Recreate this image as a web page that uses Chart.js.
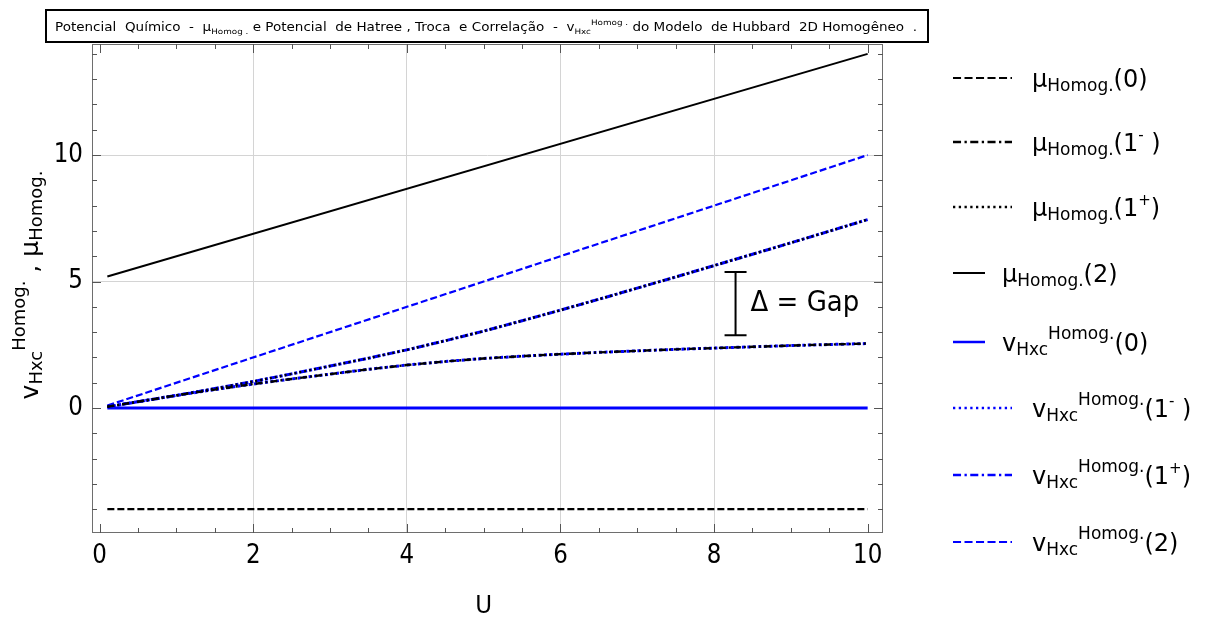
<!DOCTYPE html>
<html>
<head>
<meta charset="utf-8">
<script src="https://cdn.jsdelivr.net/npm/chart.js@4.4.1/dist/chart.umd.min.js"></script>
<style>
  html, body { margin: 0; padding: 0; background: #ffffff; }
  #wrap { width: 1211px; height: 623px; position: relative; }
</style>
</head>
<body>
<div id="wrap"><canvas id="c" width="1211" height="623"></canvas></div>
<script>
// Interaction strength U on the horizontal axis
const uLine = [0.1, 10];
const uCurve = [0.1, 0.5, 1, 1.5, 2, 2.5, 3, 3.5, 4, 4.5, 5, 5.5, 6, 6.5, 7, 7.5, 8, 8.5, 9, 9.5, 10];

// Chemical potentials of the homogeneous 2D Hubbard model
const muZero  = [-4.0, -4.0];
const muTwo   = [5.2, 14.0];
const muMinus = [0.05, 0.25, 0.5, 0.73, 0.95, 1.15, 1.34, 1.53, 1.70, 1.84, 1.96, 2.05, 2.13, 2.20, 2.26, 2.32, 2.37, 2.42, 2.47, 2.51, 2.55];
const muPlus  = [0.05, 0.25, 0.5, 0.77, 1.05, 1.35, 1.66, 1.97, 2.30, 2.66, 3.04, 3.45, 3.87, 4.30, 4.74, 5.18, 5.63, 6.08, 6.53, 6.99, 7.45];

// Hartree-exchange-correlation potentials
const vZero  = [0.0, 0.0];
const vTwo   = [0.1, 10.0];
const vMinus = [0.05, 0.25, 0.5, 0.73, 0.95, 1.15, 1.34, 1.53, 1.70, 1.84, 1.96, 2.05, 2.13, 2.20, 2.26, 2.32, 2.37, 2.42, 2.47, 2.51, 2.55];
const vPlus  = [0.05, 0.25, 0.5, 0.77, 1.05, 1.35, 1.66, 1.97, 2.30, 2.66, 3.04, 3.45, 3.87, 4.30, 4.74, 5.18, 5.63, 6.08, 6.53, 6.99, 7.45];

// Axis tick labels
const xTickValues = [0, 2, 4, 6, 8, 10];
const yTickValues = [0, 5, 10];

// Gap marker between the two branches (data units)
const gapU = 8.28, gapLow = 2.88, gapHigh = 5.38;

const FONT = '"DejaVu Sans", "Liberation Sans", sans-serif';
const BLUE = '#0000ff';
const BLACK = '#000000';

function pts(xs, ys) { return xs.map((x, i) => ({ x: x, y: ys[i] })); }

const DASH = [7, 3];
const DOT = [2, 3];
const DASHDOT = [7, 3, 2, 3];

// plotDash: pattern along the curve; dash: pattern in the legend sample
const series = [
  { label: 'mu0',  data: pts(uLine, muZero),   color: BLACK, dash: DASH,    plotDash: DASH,         width: 2.2 },
  { label: 'mu1m', data: pts(uCurve, muMinus), color: BLACK, dash: DASHDOT, plotDash: DASHDOT,      width: 2.4 },
  { label: 'mu1p', data: pts(uCurve, muPlus),  color: BLACK, dash: DOT,     plotDash: DOT,          width: 2.4 },
  { label: 'mu2',  data: pts(uLine, muTwo),    color: BLACK, dash: [],      plotDash: [],           width: 2 },
  { label: 'v0',   data: pts(uLine, vZero),    color: BLUE,  dash: [],      plotDash: [],           width: 3 },
  { label: 'v1m',  data: pts(uCurve, vMinus),  color: BLUE,  dash: DOT,     plotDash: [3, 2.5],     width: 3 },
  { label: 'v1p',  data: pts(uCurve, vPlus),   color: BLUE,  dash: DASHDOT, plotDash: [8, 2, 3, 2], width: 3 },
  { label: 'v2',   data: pts(uLine, vTwo),     color: BLUE,  dash: DASH,    plotDash: DASH,         width: 2.2 }
];

// Legend text: main size, subscripts/superscripts smaller
const M = 24, S = 17;
function muLabel(arg) { return [{ t: 'μ', s: M }, { t: 'Homog.', s: S, dy: 4 }].concat(arg); }
function vLabel(arg)  { return [{ t: 'v', s: M }, { t: 'Hxc', s: S, dy: 4 }, { t: 'Homog.', s: S, dy: -12 }].concat(arg); }
const arg0  = [{ t: '(0)', s: M }];
const arg2  = [{ t: '(2)', s: M }];
const arg1m = [{ t: '(1', s: M }, { t: '-', s: 15, dy: -11 }, { t: ' )', s: M }];
const arg1p = [{ t: '(1', s: M }, { t: '+', s: 15, dy: -11 }, { t: ')', s: M }];

const legendRows = [
  { y: 78,  x0: 953, x1: 1012, tx: 1032, text: muLabel(arg0),  ds: 0 },
  { y: 142, x0: 953, x1: 1012, tx: 1032, text: muLabel(arg1m), ds: 1 },
  { y: 207, x0: 953, x1: 1012, tx: 1032, text: muLabel(arg1p), ds: 2 },
  { y: 273, x0: 953, x1: 985,  tx: 1002, text: muLabel(arg2),  ds: 3 },
  { y: 342, x0: 953, x1: 985,  tx: 1002, text: vLabel(arg0),   ds: 4 },
  { y: 408, x0: 953, x1: 1012, tx: 1032, text: vLabel(arg1m),  ds: 5 },
  { y: 475, x0: 953, x1: 1012, tx: 1032, text: vLabel(arg1p),  ds: 6 },
  { y: 542, x0: 953, x1: 1012, tx: 1032, text: vLabel(arg2),   ds: 7 }
];

const titleSegs = [
  { t: 'Potencial  Químico  -  μ', s: 11.5 },
  { t: 'Homog .', s: 7.5, dy: 3 },
  { t: ' e Potencial  de Hatree , Troca  e Correlação  -  v', s: 11.5 },
  { t: 'Hxc', s: 7.5, dy: 3 },
  { t: 'Homog .', s: 7.5, dy: -6 },
  { t: ' do Modelo  de Hubbard  2D Homogêneo  .', s: 11.5 }
];

const yTitleSegs = [
  { t: 'v', s: 25 }, { t: 'Hxc', s: 18, dy: 4 }, { t: 'Homog.', s: 18, dy: -13 },
  { t: ' , μ', s: 25 }, { t: 'Homog.', s: 18, dy: 4 }
];

function richWidth(ctx, segs) {
  let w = 0;
  for (const g of segs) { ctx.font = g.s + 'px ' + FONT; w += ctx.measureText(g.t).width; }
  return w;
}
function drawRich(ctx, segs, x, y, align) {
  const w = richWidth(ctx, segs);
  let cx = align === 'center' ? x - w / 2 : (align === 'right' ? x - w : x);
  ctx.textAlign = 'left';
  ctx.textBaseline = 'alphabetic';
  for (const g of segs) {
    ctx.font = g.s + 'px ' + FONT;
    ctx.fillText(g.t, cx, y + (g.dy || 0));
    cx += ctx.measureText(g.t).width;
  }
  return w;
}
function drawStretched(ctx, text, x, y, size, sy, align, baseline) {
  ctx.save();
  ctx.translate(x, y);
  ctx.scale(1, sy);
  ctx.font = size + 'px ' + FONT;
  ctx.textAlign = align;
  ctx.textBaseline = baseline;
  ctx.fillText(text, 0, 0);
  ctx.restore();
}

const decorations = {
  id: 'decorations',
  afterDraw(chart) {
    const ctx = chart.ctx;
    const xs = chart.scales.x, ys = chart.scales.y;
    const a = chart.chartArea;
    ctx.save();

    // Frame
    ctx.strokeStyle = '#6e6e6e';
    ctx.lineWidth = 1;
    ctx.strokeRect(a.left + 0.5, a.top + 0.5, a.right - a.left - 1, a.bottom - a.top - 1);

    // Inward ticks on all four sides
    ctx.strokeStyle = '#555555';
    ctx.beginPath();
    for (let k = 0; k <= 20; k++) {
      const v = k * 0.5;
      const px = Math.round(xs.getPixelForValue(v)) + 0.5;
      const len = (k % 4 === 0) ? 9 : 5;
      ctx.moveTo(px, a.bottom); ctx.lineTo(px, a.bottom - len);
      ctx.moveTo(px, a.top);    ctx.lineTo(px, a.top + len);
    }
    for (let v = -4; v <= 14; v++) {
      const py = Math.round(ys.getPixelForValue(v)) + 0.5;
      const len = (v % 5 === 0) ? 9 : 5;
      ctx.moveTo(a.left, py);  ctx.lineTo(a.left + len, py);
      ctx.moveTo(a.right, py); ctx.lineTo(a.right - len, py);
    }
    ctx.stroke();

    // Tick labels
    ctx.fillStyle = '#000000';
    for (const v of xTickValues) {
      drawStretched(ctx, String(v), xs.getPixelForValue(v), 556, 23, 1.15, 'center', 'middle');
    }
    for (const v of yTickValues) {
      drawStretched(ctx, String(v), 83, ys.getPixelForValue(v), 23, 1.15, 'right', 'middle');
    }

    // Axis titles
    drawStretched(ctx, 'U', xs.getPixelForValue(5), 606, 23, 1.1, 'center', 'middle');
    ctx.save();
    ctx.translate(38, 285);
    ctx.rotate(-Math.PI / 2);
    drawRich(ctx, yTitleSegs, 0, 0, 'center');
    ctx.restore();

    // Gap marker
    const gx = xs.getPixelForValue(gapU);
    const gy1 = ys.getPixelForValue(gapHigh), gy2 = ys.getPixelForValue(gapLow);
    ctx.strokeStyle = '#000000';
    ctx.lineWidth = 2;
    ctx.setLineDash([]);
    ctx.beginPath();
    ctx.moveTo(gx, gy1); ctx.lineTo(gx, gy2);
    ctx.moveTo(gx - 11, gy1); ctx.lineTo(gx + 11, gy1);
    ctx.moveTo(gx - 11, gy2); ctx.lineTo(gx + 11, gy2);
    ctx.stroke();
    drawStretched(ctx, 'Δ = Gap', gx + 15, (gy1 + gy2) / 2, 26, 1.08, 'left', 'middle');

    // Legend
    for (const r of legendRows) {
      const d = series[r.ds];
      ctx.strokeStyle = d.color;
      ctx.lineWidth = Math.min(d.width, 2.5);
      ctx.setLineDash(d.dash.length ? d.dash.map(q => q * 1.15) : []);
      ctx.beginPath();
      ctx.moveTo(r.x0, r.y); ctx.lineTo(r.x1, r.y);
      ctx.stroke();
      ctx.setLineDash([]);
      ctx.fillStyle = '#000000';
      drawRich(ctx, r.text, r.tx, r.y + 9, 'left');
    }

    // Title box
    ctx.strokeStyle = '#000000';
    ctx.lineWidth = 2;
    ctx.strokeRect(46, 10, 882, 32);
    ctx.fillStyle = '#000000';
    const tw = richWidth(ctx, titleSegs);
    ctx.save();
    ctx.translate(55, 31);
    ctx.scale(862 / tw, 1);
    drawRich(ctx, titleSegs, 0, 0, 'left');
    ctx.restore();

    ctx.restore();
  }
};

function gridColor(c) {
  const v = c.tick ? c.tick.value : null;
  if (v === null || v === 0 || v === 10 && c.scale.axis === 'x') return 'rgba(0,0,0,0)';
  return '#d4d4d4';
}

new Chart(document.getElementById('c').getContext('2d'), {
  type: 'line',
  data: {
    datasets: series.map(d => ({
      label: d.label,
      data: d.data,
      borderColor: d.color,
      borderWidth: d.width,
      borderDash: d.plotDash,
      pointRadius: 0,
      fill: false,
      tension: 0
    }))
  },
  options: {
    responsive: false,
    animation: false,
    parsing: false,
    layout: { padding: { top: 44, right: 328, left: 0, bottom: 0 } },
    plugins: { legend: { display: false }, tooltip: { enabled: false }, title: { display: false } },
    scales: {
      x: {
        type: 'linear', min: -0.1, max: 10.2,
        ticks: { display: false, stepSize: 2, includeBounds: false },
        grid: { color: gridColor, lineWidth: 1, drawTicks: false },
        border: { display: false },
        afterFit(s) { s.height = 90; }
      },
      y: {
        type: 'linear', min: -4.94, max: 14.39,
        ticks: { display: false, stepSize: 5, includeBounds: false },
        grid: { color: gridColor, lineWidth: 1, drawTicks: false },
        border: { display: false },
        afterFit(s) { s.width = 92; }
      }
    }
  },
  plugins: [decorations]
});
</script>
</body>
</html>
